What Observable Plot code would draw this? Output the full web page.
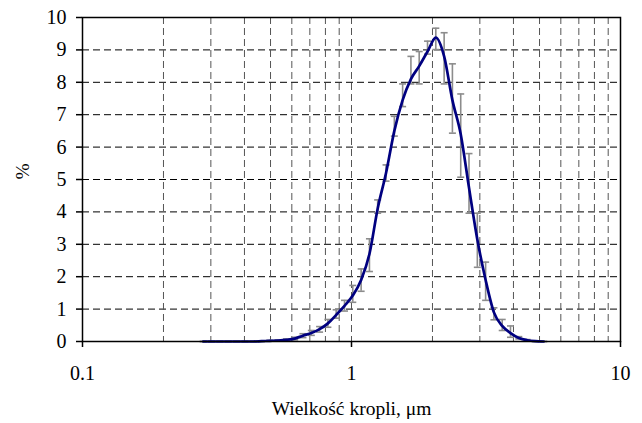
<!DOCTYPE html>
<html>
<head>
<meta charset="utf-8">
<script src="https://cdn.jsdelivr.net/npm/d3@7"></script>
<script src="https://cdn.jsdelivr.net/npm/@observablehq/plot@0.6"></script>
<style>
  html, body { margin: 0; padding: 0; background: #fff; }
</style>
</head>
<body>
<div id="chart"></div>
<script>
// Droplet size bins (µm)
const sizes = [0.281,0.302,0.324,0.348,0.374,0.402,0.431,0.463,0.497,0.533,0.573,0.615,0.660,0.709,0.761,0.817,0.877,0.942,1.011,1.086,1.166,1.251,1.344,1.443,1.549,1.663,1.785,1.917,2.058,2.210,2.372,2.547,2.734,2.936,3.152,3.384,3.633,3.900,4.187,4.496,4.827,5.183];
// Mean distribution (%)
const meanPct = [0,0,0,0,0,0,0,0.01,0.02,0.03,0.05,0.09,0.18,0.26,0.38,0.56,0.82,1.10,1.42,1.90,2.70,4.10,5.20,6.50,7.45,8.10,8.50,8.95,9.38,8.80,7.45,6.40,4.75,3.15,1.90,0.90,0.48,0.26,0.11,0.04,0.01,0];
// Error bar lower and upper ends (%)
const errLow = [0,0,0,0,0,0,0,0,0.01,0.01,0.02,0.05,0.12,0.19,0.29,0.44,0.72,0.94,1.21,1.55,2.16,3.96,4.95,6.34,7.25,7.95,7.95,8.87,9.01,7.95,6.43,5.07,3.96,2.29,1.27,0.67,0.34,0.13,0.08,0.02,0,0];
const errHigh = [0,0,0,0,0,0,0,0.02,0.04,0.05,0.08,0.13,0.24,0.34,0.46,0.68,0.98,1.27,1.73,2.24,3.17,4.37,5.45,6.95,7.95,8.80,8.95,9.27,9.67,9.53,8.57,7.64,5.80,3.96,2.45,1.04,0.68,0.48,0.15,0.06,0.02,0];

const yTicks = [0,1,2,3,4,5,6,7,8,9,10];
const yGrid = [1,2,3,4,5,6,7,8,9];
const xTicks = [0.1, 1, 10];
const xTickLabels = ["0.1", "1", "10"];
const xGrid = [0.2,0.3,0.4,0.5,0.6,0.7,0.8,0.9,1,2,3,4,5,6,7,8,9];
const xTitle = "Wielkość kropli, μm";
const yTitle = "%";

const data = sizes.map((s, i) => ({size: s, pct: meanPct[i], lo: errLow[i], hi: errHigh[i]}));

const cap = {
  draw(ctx) {
    ctx.moveTo(-3.5, 0);
    ctx.lineTo(3.5, 0);
  }
};

const chart = Plot.plot({
  width: 642,
  height: 423,
  marginLeft: 82,
  marginRight: 22,
  marginTop: 17,
  marginBottom: 82,
  style: {fontFamily: "'Liberation Serif', 'Times New Roman', serif", fontSize: "20px", color: "#000", background: "#fff"},
  x: {type: "log", domain: [0.1, 10]},
  y: {domain: [0, 10]},
  marks: [
    Plot.gridY(yGrid, {stroke: "#000", strokeOpacity: 1, strokeWidth: 1, strokeDasharray: "7,4"}),
    Plot.gridX(xGrid, {stroke: "#555", strokeOpacity: 1, strokeWidth: 1, strokeDasharray: "7,4"}),
    Plot.ruleX(data.filter(d => d.hi > 0), {x: "size", y1: "lo", y2: "hi", stroke: "#8c8c8c", strokeWidth: 1.6}),
    Plot.dot(data, {x: "size", y: "lo", symbol: cap, fill: "none", stroke: "#8c8c8c", strokeWidth: 1.6}),
    Plot.dot(data, {x: "size", y: "hi", symbol: cap, fill: "none", stroke: "#8c8c8c", strokeWidth: 1.6}),
    Plot.line(data, {x: "size", y: "pct", stroke: "#000080", strokeWidth: 2.7, curve: "monotone-x"}),
    Plot.frame({stroke: "#000", strokeWidth: 1.5}),
    Plot.axisY(yTicks, {tickSize: 6, tickPadding: 10, label: null, stroke: "#000", strokeWidth: 1.5, fontSize: 20}),
    Plot.axisX(xTicks, {tickSize: 6, tickPadding: 18, label: null, tickFormat: d => xTickLabels[xTicks.indexOf(d)], stroke: "#000", strokeWidth: 1.5, fontSize: 20}),
    Plot.text([xTitle], {frameAnchor: "bottom", dy: 73, fontSize: 19.5, fill: "#000"}),
    Plot.text([yTitle], {frameAnchor: "left", dx: -60, rotate: -90, fontSize: 19.5, fill: "#000"})
  ]
});

document.getElementById("chart").appendChild(chart);
</script>
</body>
</html>
